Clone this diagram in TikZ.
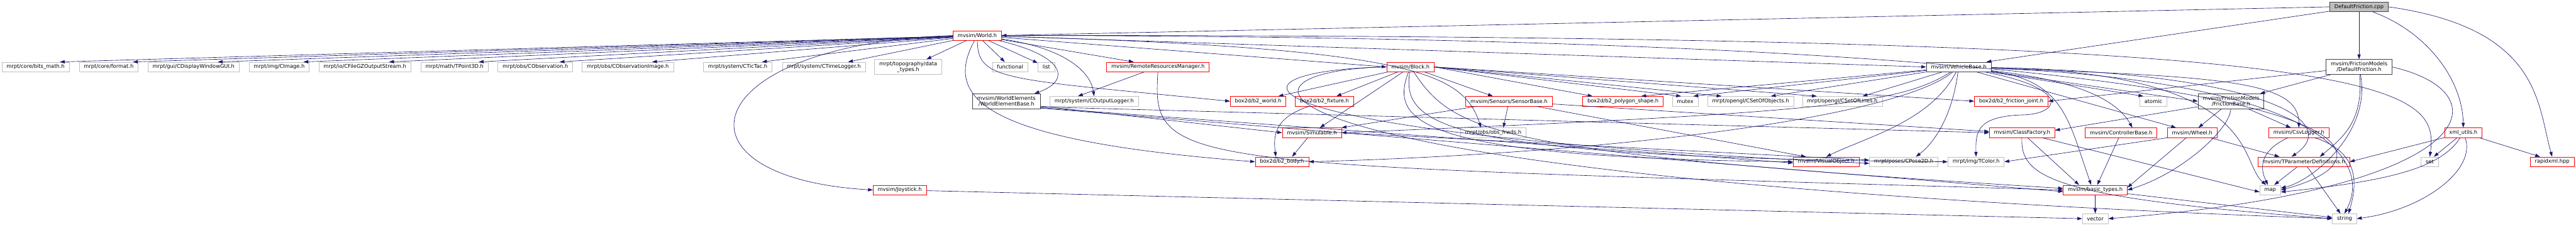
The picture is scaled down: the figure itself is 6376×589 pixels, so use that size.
\documentclass[tikz,border=0pt]{standalone}
\usepackage{fontspec}
\newfontfamily\dxfont{DejaVu Sans}
\usepackage{tikz}
\usetikzlibrary{arrows.meta,positioning,calc}
\definecolor{edgeblue}{HTML}{191970}
\definecolor{extgray}{HTML}{BFBFBF}
\definecolor{incgray}{HTML}{404040}

\begin{document}
\begin{tikzpicture}[x=1pt, y=-1pt,
    hdr/.style={draw, line width=1pt, font=\dxfont\fontsize{12.9}{14}\selectfont,
      minimum height=24pt, inner xsep=11.5pt, inner ysep=0pt, align=center},
    sysbox/.style={hdr, draw=extgray},
    redbox/.style={hdr, draw=red},
    incbox/.style={hdr, draw=incgray},
    rootbox/.style={hdr, draw=incgray, fill=extgray},
    twoline/.style={minimum height=37pt},
    dep/.style={-{Triangle[length=12pt,width=8pt]}, draw=edgeblue, line width=1pt},
  ]
    \useasboundingbox (0,0) rectangle (6376,589);
    \fill[white] (0,0) rectangle (6376,589);

    % Source file and World
    \node[rootbox] (cpp) at (5839,17) {DefaultFriction.cpp};
    \node[redbox] (world) at (2419,88) {mvsim/World.h};

    % Row 2
    \node[sysbox] (bitsmath) at (88,166) {mrpt/core/bits\_math.h};
    \node[sysbox] (format) at (269,166) {mrpt/core/format.h};
    \node[sysbox] (cdisplay) at (479,166) {mrpt/gui/CDisplayWindowGUI.h};
    \node[sysbox] (cimage) at (691,166) {mrpt/img/CImage.h};
    \node[sysbox] (cfilegz) at (903,166) {mrpt/io/CFileGZOutputStream.h};
    \node[sysbox] (tpoint3d) at (1125,166) {mrpt/math/TPoint3D.h};
    \node[sysbox] (cobs) at (1325,166) {mrpt/obs/CObservation.h};
    \node[sysbox] (cobsimg) at (1554,166) {mrpt/obs/CObservationImage.h};
    \node[sysbox] (ctictac) at (1826,166) {mrpt/system/CTicTac.h};
    \node[sysbox] (ctimelog) at (2039,166) {mrpt/system/CTimeLogger.h};
    \node[sysbox, twoline] (topo) at (2248,166) {mrpt/topography/data\\\_types.h};
    \node[sysbox] (functional) at (2500,166) {functional};
    \node[sysbox] (list) at (2590,166) {list};
    \node[redbox] (remres) at (2866,166) {mvsim/RemoteResourcesManager.h};
    \node[redbox] (block) at (3491,166) {mvsim/Block.h};
    \node[incbox] (vehbase) at (4848,166) {mvsim/VehicleBase.h};
    \node[incbox, twoline] (deffric) at (5839,166) {mvsim/FrictionModels\\/DefaultFriction.h};

    % Row 3
    \node[incbox, twoline] (welbase) at (2491,251) {mvsim/WorldElements\\/WorldElementBase.h};
    \node[sysbox] (coutlog) at (2708,251) {mrpt/system/COutputLogger.h};
    \node[redbox] (b2world) at (3114,251) {box2d/b2\_world.h};
    \node[redbox] (b2fixture) at (3278,251) {box2d/b2\_fixture.h};
    \node[redbox] (sensbase) at (3735,251) {mvsim/Sensors/SensorBase.h};
    \node[redbox] (b2poly) at (4017,251) {box2d/b2\_polygon\_shape.h};
    \node[sysbox] (mutex) at (4171,251) {mutex};
    \node[sysbox] (csetobj) at (4333,251) {mrpt/opengl/CSetOfObjects.h};
    \node[sysbox] (csetlines) at (4560,251) {mrpt/opengl/CSetOfLines.h};
    \node[redbox] (b2fricjoint) at (4978,251) {box2d/b2\_friction\_joint.h};
    \node[sysbox] (atomic) at (5330,251) {atomic};
    \node[incbox, twoline] (fricbase) at (5522,251) {mvsim/FrictionModels\\/FrictionBase.h};

    % Row 4
    \node[redbox] (simulable) at (3247,329) {mvsim/Simulable.h};
    \node[sysbox] (obsfrwds) at (3696,329) {mrpt/obs/obs\_frwds.h};
    \node[redbox] (classfac) at (5005,329) {mvsim/ClassFactory.h};
    \node[redbox] (ctrlbase) at (5250,329) {mvsim/ControllerBase.h};
    \node[redbox] (wheel) at (5426,329) {mvsim/Wheel.h};
    \node[redbox] (csvlog) at (5690,329) {mvsim/CsvLogger.h};
    \node[redbox] (xmlutils) at (6097,329) {xml\_utils.h};

    % Row 5
    \node[redbox] (b2body) at (3173,401) {box2d/b2\_body.h};
    \node[redbox] (visobj) at (4520,401) {mvsim/VisualObject.h};
    \node[sysbox] (cpose2d) at (4712,401) {mrpt/poses/CPose2D.h};
    \node[sysbox] (tcolor) at (4891,401) {mrpt/img/TColor.h};
    \node[redbox] (tparam) at (5702,401) {mvsim/TParameterDefinitions.h};
    \node[sysbox] (set) at (6014,401) {set};
    \node[redbox] (rapidxml) at (6317,401) {rapidxml.hpp};

    % Rows 6 and 7
    \node[redbox] (joystick) at (2227,471) {mvsim/Joystick.h};
    \node[redbox] (basictypes) at (5186,471) {mvsim/basic\_types.h};
    \node[sysbox] (map) at (5619,471) {map};
    \node[sysbox] (vector) at (5186,542) {vector};
    \node[sysbox] (string) at (5803,542) {string};

    % Arrows from the source file
    \draw[dep] (cpp.west) -- (world.east);
    \draw[dep] (cpp) -- ([xshift=-12pt]vehbase.north east);
    \draw[dep] (cpp) -- (deffric);
    \draw[dep] (cpp) .. controls (6010,80) and (6095,200) .. (xmlutils.north);
    \draw[dep] (cpp.east) .. controls (6290,70) and (6280,260) .. (rapidxml.north);

    % Arrows from World.h
    \foreach \n in {bitsmath,format,cdisplay,cimage,cfilegz,tpoint3d,cobs,cobsimg,ctictac,ctimelog}
      \draw[dep] (world) -- ([xshift=60pt]\n.north);
    \draw[dep] (world) -- ([xshift=45pt]topo.north);
    \draw[dep] (world) -- (functional);
    \draw[dep] (world) -- (list);
    \draw[dep] (world) .. controls (2640,140) and (2650,200) .. ([xshift=-15pt]welbase.north east);
    \draw[dep] (world) .. controls (2640,120) and (2700,180) .. (coutlog.north);
    \draw[dep] (world) -- ([xshift=-60pt]remres.north);
    \draw[dep] (world) -- (block.west);
    \draw[dep] (world) -- (vehbase.west);
    \draw[dep] (world.west) .. controls (1720,110) and (1640,440) .. (joystick.west);
    \draw[dep] (world) .. controls (2420,200) and (2480,195) .. (b2world.west);
    \draw[dep] (world) .. controls (2330,250) and (2450,350) .. (b2body.west);
    \draw[dep] (world) .. controls (3500,120) and (3620,180) .. ([xshift=-30pt]obsfrwds.north);
    \draw[dep] (world) .. controls (5900,85) and (6040,200) .. (set.north);
    \draw[dep] (world) .. controls (5900,90) and (5990,380) .. (map.east);

    % Arrows from WorldElementBase.h and RemoteResourcesManager.h
    \draw[dep] ([yshift=-12pt]welbase.east) -- (simulable.west);
    \draw[dep] ([yshift=-14pt]welbase.east) -- (classfac.west);
    \draw[dep] ([yshift=-16pt]welbase.east) -- ([yshift=-3pt]visobj.west);
    \draw[dep] ([yshift=-17pt]welbase.east) -- ([yshift=-4pt]basictypes.west);
    \draw[dep] (remres) -- ([xshift=-40pt]coutlog.north);
    \draw[dep] (remres.south) .. controls (2850,420) and (2900,405) .. (basictypes.west);

    % Arrows from Block.h
    \draw[dep] (block) -- ([xshift=50pt]b2world.north);
    \draw[dep] (block) -- ([xshift=30pt]b2fixture.north);
    \draw[dep] (block) -- ([xshift=20pt]simulable.north);
    \draw[dep] (block) -- ([xshift=-40pt]sensbase.north);
    \draw[dep] (block.east) -- ([xshift=-75pt]b2poly.north);
    \draw[dep] (block.east) -- ([xshift=-10pt]mutex.north);
    \draw[dep] (block.east) -- ([xshift=-72pt]csetobj.north);
    \draw[dep] (block.east) -- ([xshift=-63pt]csetlines.north);
    \draw[dep] (block.east) -- (b2fricjoint.west);
    \draw[dep] (block) .. controls (3440,300) and (3500,390) .. (visobj.west);
    \draw[dep] (block) .. controls (3470,310) and (3560,390) .. (tcolor.west);
    \draw[dep] (block) .. controls (3600,330) and (3700,380) .. ([yshift=4pt]basictypes.west);
    \draw[dep] (block.west) .. controls (3000,175) and (2990,330) .. ([yshift=-4pt]cpose2d.west);
    \draw[dep] (block.west) .. controls (2980,175) and (3000,440) .. (string.west);

    % Arrows from the sensors and simulables
    \draw[dep] (b2fixture) .. controls (3160,290) and (3150,330) .. ([xshift=-15pt]b2body.north);
    \draw[dep] (simulable) -- ([xshift=25pt]b2body.north);
    \draw[dep] (simulable.east) -- ([yshift=4pt]cpose2d.west);
    \draw[dep] (sensbase) -- ([xshift=25pt]obsfrwds.north);
    \draw[dep] (sensbase) -- (simulable.north east);
    \draw[dep] (sensbase) -- ([xshift=-50pt]visobj.north);
    \draw[dep] (sensbase) -- ([yshift=3pt]classfac.west);

    % Arrows from VehicleBase.h
    \draw[dep] (vehbase) -- ([xshift=50pt]csetobj.north);
    \draw[dep] (vehbase) -- ([xshift=50pt]csetlines.north);
    \draw[dep] (vehbase) -- ([xshift=45pt]b2poly.north);
    \draw[dep] (vehbase) -- ([xshift=20pt]mutex.north);
    \draw[dep] (vehbase) -- ([xshift=-25pt]atomic.north);
    \draw[dep] (vehbase) -- (fricbase.west);
    \draw[dep] (vehbase) -- ([xshift=-40pt]wheel.north);
    \draw[dep] (vehbase) .. controls (5500,190) and (5690,200) .. (csvlog.north);
    \draw[dep] (vehbase) .. controls (5600,180) and (5800,300) .. ([xshift=-30pt]tparam.north);
    \draw[dep] (vehbase) .. controls (5150,200) and (5240,250) .. ([xshift=28pt]ctrlbase.north);
    \draw[dep] (vehbase) .. controls (5130,220) and (5100,285) .. (5000,285)
      .. controls (4890,290) and (4890,330) .. (tcolor.north);
    \draw[dep] (vehbase) .. controls (5110,200) and (5120,300) .. ([xshift=-10pt]basictypes.north);
    \draw[dep] (vehbase) .. controls (4780,300) and (4620,340) .. (visobj.north);
    \draw[dep] (vehbase) .. controls (4830,300) and (4780,360) .. ([xshift=30pt]cpose2d.north);
    \draw[dep] (vehbase) .. controls (4700,260) and (4500,280) .. (simulable.east);
    \draw[dep] (vehbase) .. controls (4700,290) and (4000,380) .. (b2body.east);
    \draw[dep] (vehbase) .. controls (5600,180) and (5540,400) .. ([xshift=-10pt]map.north);
    \draw[dep] (vehbase) .. controls (5700,200) and (5880,380) .. (string.north);

    % Arrows from the friction models
    \draw[dep] (deffric) -- ([xshift=-10pt]fricbase.north east);
    \draw[dep] (deffric) -- (b2fricjoint.east);
    \draw[dep] (deffric) .. controls (5850,300) and (5800,340) .. ([xshift=40pt]tparam.north);
    \draw[dep] (deffric) .. controls (5870,330) and (5720,450) .. ([yshift=5pt]map.east);
    \draw[dep] (deffric.east) .. controls (6200,230) and (6150,470) .. (vector.east);
    \draw[dep] (fricbase) -- ([yshift=6pt]classfac.east);
    \draw[dep] (fricbase) -- (wheel);
    \draw[dep] (fricbase) -- ([xshift=-20pt]csvlog.north);
    \draw[dep] (fricbase) .. controls (5520,320) and (5400,430) .. (basictypes.east);

    % Arrows from the lower headers
    \draw[dep] (ctrlbase) -- ([xshift=5pt]basictypes.north);
    \draw[dep] (classfac) -- ([xshift=-40pt]basictypes.north);
    \draw[dep] (classfac) -- ([yshift=-5pt]map.west);
    \draw[dep] (classfac) .. controls (5000,440) and (5080,490) .. (string.west);
    \draw[dep] (wheel) -- ([xshift=-60pt]tparam.north);
    \draw[dep] (wheel.south west) -- (tcolor.east);
    \draw[dep] (wheel) -- ([yshift=6pt]basictypes.east);
    \draw[dep] (csvlog) .. controls (5580,380) and (5600,430) .. (map);
    \draw[dep] (csvlog) .. controls (5850,380) and (5830,470) .. ([xshift=10pt]string.north);
    \draw[dep] (tparam) -- ([xshift=10pt]map.north);
    \draw[dep] (tparam) -- ([xshift=-10pt]string.north);
    \draw[dep] (basictypes) -- (vector);
    \draw[dep] (basictypes) -- ([yshift=3pt]string.west);
    \draw[dep] (joystick) -- (vector.west);
    \draw[dep] (xmlutils) -- ([xshift=10pt]set.north);
    \draw[dep] (xmlutils) -- ([xshift=-30pt]rapidxml.north);
    \draw[dep] (xmlutils) -- (tparam.east);
    \draw[dep] (xmlutils) .. controls (6040,420) and (5900,450) .. ([yshift=-5pt]map.east);
    \draw[dep] (xmlutils) .. controls (6130,420) and (6000,520) .. (string.east);
  \end{tikzpicture}
\end{document}
